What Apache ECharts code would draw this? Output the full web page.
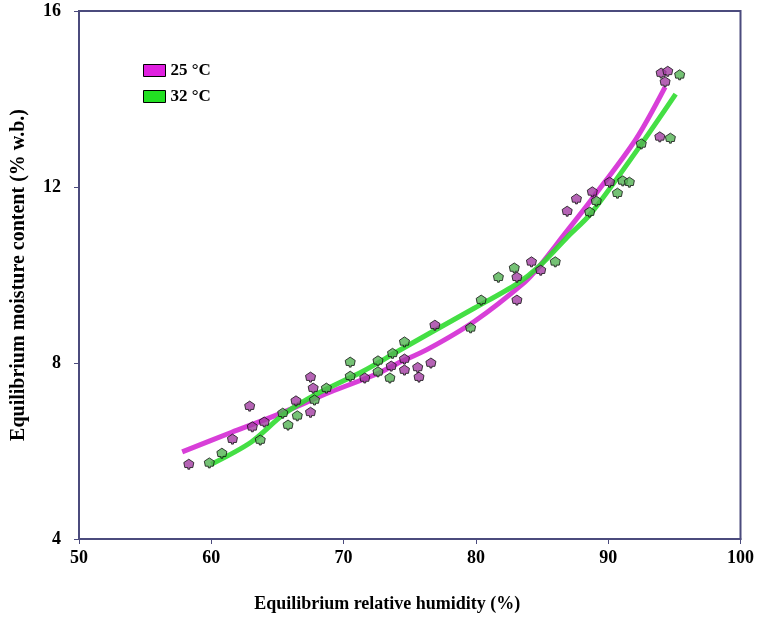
<!DOCTYPE html>
<html>
<head>
<meta charset="utf-8">
<script src="https://cdn.jsdelivr.net/npm/echarts@6/dist/echarts.min.js"></script>
<style>html,body{margin:0;padding:0;background:#fff;}#c{width:757px;height:618px;}</style>
</head>
<body>
<div id="c"></div>
<script>
// Measured points, 25 °C
var m25X = [58.3, 61.6, 62.9, 63.1, 64.0, 66.4, 67.5, 67.7, 67.5, 71.6, 73.6, 74.6, 74.6, 75.6, 75.7, 76.6, 76.9, 83.1, 83.1, 84.2, 84.9, 86.9, 87.6, 88.8, 90.1, 93.9, 94.0, 94.5, 94.3];
var m25Y = [5.70, 6.27, 7.02, 6.55, 6.66, 7.14, 7.68, 7.43, 6.88, 7.66, 7.93, 8.09, 7.84, 7.90, 7.68, 8.00, 8.86, 9.95, 9.43, 10.30, 10.11, 11.45, 11.73, 11.89, 12.11, 13.14, 14.59, 14.63, 14.39];
// Measured points, 32 °C
var g32X = [59.85, 60.8, 63.7, 65.4, 65.8, 66.5, 67.8, 68.7, 70.5, 70.5, 72.6, 72.6, 73.7, 73.5, 74.6, 79.6, 80.4, 81.7, 82.9, 86.0, 88.6, 89.1, 90.7, 91.1, 91.6, 92.5, 94.7, 95.4];
var g32Y = [5.73, 5.95, 6.25, 6.86, 6.59, 6.80, 7.16, 7.43, 7.70, 8.02, 8.05, 7.80, 8.22, 7.66, 8.48, 8.80, 9.43, 9.95, 10.16, 10.30, 11.43, 11.68, 11.86, 12.14, 12.11, 12.98, 13.11, 14.55];
// Fitted curves
var m25CX = [57.8, 61.5, 65.2, 69.0, 72.5, 74.0, 76.4, 79.9, 83.7, 84.8, 86.6, 88.7, 92.1, 94.3];
var m25CY = [5.98, 6.42, 6.85, 7.34, 7.75, 7.98, 8.32, 8.95, 9.84, 10.2, 10.89, 11.7, 13.09, 14.27];
var g32CX = [60.0, 63.0, 65.5, 68.0, 71.5, 74.0, 76.4, 79.9, 83.1, 84.8, 86.9, 88.7, 92.4, 95.1];
var g32CY = [5.70, 6.20, 6.84, 7.30, 7.82, 8.25, 8.66, 9.25, 9.80, 10.2, 10.86, 11.40, 12.93, 14.11];
var seriesNames = ['25 °C', '32 °C'];
var xTicks = [50, 60, 70, 80, 90, 100];
var yTicks = [4, 8, 12, 16];

function pairs(xs, ys) { return xs.map(function (x, i) { return [x, ys[i]]; }); }

var axisColor = '#4b4b7d';
var font = '"Liberation Serif", "DejaVu Serif", serif';
var marker = 'path://M0,-6 L5,-2 L4,4 L1,4 L1,6 L-1,6 L-1,4 L-4,4 L-5,-2 Z';

var chart = echarts.init(document.getElementById('c'));
chart.setOption({
  animation: false,
  backgroundColor: '#fff',
  grid: { left: 79, right: 7, top: 11, bottom: 78, show: true, borderColor: axisColor, borderWidth: 2, backgroundColor: 'transparent' },
  legend: {
    orient: 'vertical', left: 138, top: 57, itemWidth: 22, itemHeight: 12, itemGap: 9,
    textStyle: { fontFamily: font, fontWeight: 'bold', fontSize: 17, color: '#000' },
    data: [
      { name: seriesNames[0], icon: 'rect', itemStyle: { color: '#e020e0', borderColor: '#000', borderWidth: 1 } },
      { name: seriesNames[1], icon: 'rect', itemStyle: { color: '#22e022', borderColor: '#000', borderWidth: 1 } }
    ]
  },
  xAxis: {
    type: 'value', min: xTicks[0], max: xTicks[xTicks.length - 1], interval: 10,
    name: 'Equilibrium relative humidity (%)', nameLocation: 'middle', nameGap: 56,
    nameTextStyle: { fontFamily: font, fontWeight: 'bold', fontSize: 18, color: '#000', padding: [0, 45, 0, 0] },
    axisLine: { lineStyle: { color: axisColor, width: 2 } },
    axisTick: { show: true, length: 5, lineStyle: { color: axisColor } },
    axisLabel: { fontFamily: font, fontWeight: 'bold', fontSize: 18, color: '#000', margin: 10 },
    splitLine: { show: false }
  },
  yAxis: {
    type: 'value', min: yTicks[0], max: yTicks[yTicks.length - 1], interval: 4,
    name: 'Equilibrium moisture content (% w.b.)', nameLocation: 'middle', nameGap: 50,
    nameTextStyle: { fontFamily: font, fontWeight: 'bold', fontSize: 20, color: '#000' },
    axisLine: { lineStyle: { color: axisColor, width: 2 } },
    axisTick: { show: true, length: 5, lineStyle: { color: axisColor } },
    axisLabel: { fontFamily: font, fontWeight: 'bold', fontSize: 18, color: '#000', margin: 18 },
    splitLine: { show: false }
  },
  series: [
    { name: seriesNames[0], type: 'line', data: pairs(m25CX, m25CY), smooth: 0.3, showSymbol: false, symbol: 'none',
      lineStyle: { color: '#d42ad4', width: 5, opacity: 0.9 }, itemStyle: { color: '#e020e0' }, z: 2 },
    { name: seriesNames[1], type: 'line', data: pairs(g32CX, g32CY), smooth: 0.3, showSymbol: false, symbol: 'none',
      lineStyle: { color: '#30dc30', width: 5, opacity: 0.9 }, itemStyle: { color: '#22e022' }, z: 2 },
    { name: seriesNames[0] + ' data', type: 'scatter', data: pairs(m25X, m25Y), symbol: marker, symbolSize: 10,
      itemStyle: { color: '#a33ca3', borderColor: '#111', borderWidth: 1 }, z: 3 },
    { name: seriesNames[1] + ' data', type: 'scatter', data: pairs(g32X, g32Y), symbol: marker, symbolSize: 10,
      itemStyle: { color: '#52b352', borderColor: '#111', borderWidth: 1 }, z: 3 }
  ]
});
</script>
</body>
</html>
